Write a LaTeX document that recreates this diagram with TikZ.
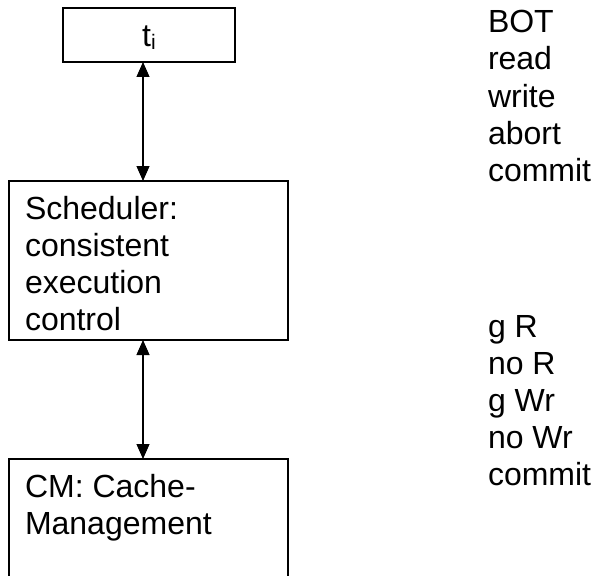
\documentclass[tikz,border=0pt]{standalone}
\usepackage{fontspec}
\setmainfont{Liberation Sans}
\usetikzlibrary{arrows.meta}
\tikzset{
  box/.style={draw=black, line width=1.1pt, inner sep=0pt, outer sep=0pt, anchor=north west},
  label/.style={inner sep=0pt, outer sep=0pt, anchor=base west, font=\fontsize{32}{37}\selectfont},
  link/.style={line width=1.1pt, {Triangle[width=13pt,length=15pt]}-{Triangle[width=13pt,length=15pt]}}
}
\begin{document}
\begin{tikzpicture}[x=1pt,y=-1pt]
  \useasboundingbox (0,0) rectangle (599,575);
  \clip (0,0) rectangle (599,575);

  % three layered components
  \node[box, minimum width=172pt, minimum height=54pt] (tbox) at (63,8) {};
  \node[box, minimum width=279pt, minimum height=159pt] (sched) at (9,181) {};
  \node[box, minimum width=279pt, minimum height=160pt] (cm) at (9,459) {};

  % transaction label
  \node[inner sep=0pt, anchor=base, font=\fontsize{32}{37}\selectfont] (ti) at (149,47)
    {t\raisebox{-3pt}{\fontsize{21}{21}\selectfont i}};

  % scheduler text
  \node[label] (s1) at (25,219) {Scheduler:};
  \node[label] (s2) at (25,256) {consistent};
  \node[label] (s3) at (25,293) {execution};
  \node[label] (s4) at (25,330) {control};

  % cache manager text
  \node[label] (c1) at (25,497) {CM: Cache-};
  \node[label] (c2) at (25,534) {Management};

  % operations between transaction and scheduler
  \foreach \t [count=\k from 0] in {BOT,read,write,abort,commit}
    \node[label] (op\k) at (488,33+37*\k) {\t};

  % operations between scheduler and cache manager
  \foreach \t [count=\k from 0] in {g R,no R,g Wr,no Wr,commit}
    \node[label] (cmop\k) at (488,337+37*\k) {\t};

  % connectors
  \draw[link] ([xshift=80pt]tbox.south west) -- ([xshift=80pt]tbox.south west |- sched.north);
  \draw[link] ([xshift=134pt]sched.south west) -- ([xshift=134pt]sched.south west |- cm.north);
\end{tikzpicture}
\end{document}
